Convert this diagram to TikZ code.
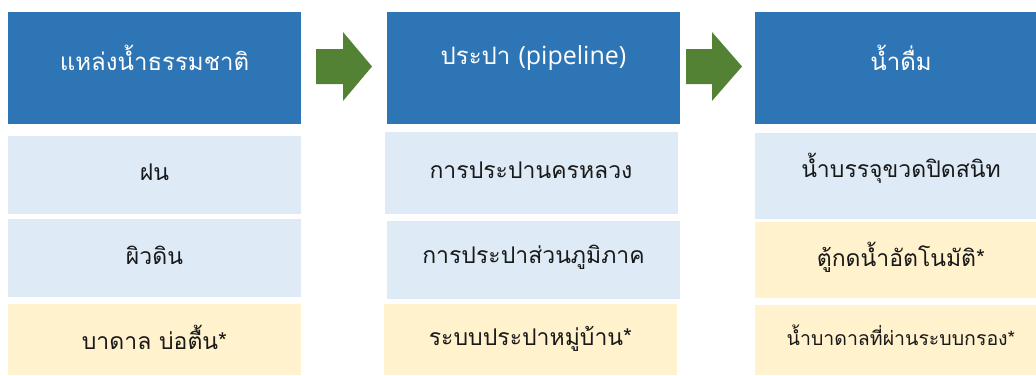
\documentclass[tikz,border=0pt]{standalone}
\usepackage{fontspec}
\newfontfamily\thai[Script=Thai]{Loma}
\newfontfamily\latinfont{Open Sans}
\definecolor{hdr}{HTML}{2E75B6}
\definecolor{lblue}{HTML}{DEEBF7}
\definecolor{lyel}{HTML}{FFF2CC}
\definecolor{agreen}{HTML}{548235}
\tikzset{
  box/.style={draw=none, inner sep=0pt, anchor=north west},
  hdrbox/.style={box, fill=hdr},
  bluebox/.style={box, fill=lblue},
  yelbox/.style={box, fill=lyel},
  hdrtext/.style={text=white, font=\thai\fontsize{24}{28}\selectfont, inner sep=0pt},
  bodytext/.style={text=black!90, font=\thai\fontsize{23}{27}\selectfont, inner sep=0pt},
  flowarrow/.style={fill=agreen, draw=none}
}
\newcommand{\bx}[6]{% style, name, x1, y1, x2, y2
  \node[#1, minimum width=#5pt-#3pt, minimum height=#6pt-#4pt] (#2) at (#3,#4) {};}
\begin{document}
\begin{tikzpicture}[x=1pt,y=-1pt]
\useasboundingbox (0,0) rectangle (1036,375);
% column 1
\bx{hdrbox}{h1}{8}{12}{301}{124}
\bx{bluebox}{a1}{8}{136}{301}{214}
\bx{bluebox}{a2}{8}{219}{301}{297}
\bx{yelbox}{a3}{8}{304}{301}{375}
% column 2
\bx{hdrbox}{h2}{387}{12}{680}{124}
\bx{bluebox}{b1}{385}{132}{678}{214}
\bx{bluebox}{b2}{387}{221}{680}{299}
\bx{yelbox}{b3}{384}{304}{677}{375}
% column 3
\bx{hdrbox}{h3}{755}{12}{1036}{124}
\bx{bluebox}{c1}{755}{133}{1036}{219}
\bx{yelbox}{c2}{755}{222}{1036}{298}
\bx{yelbox}{c3}{755}{305}{1036}{375}
% texts
\node[hdrtext] (h1t) at (154.5,58) {แหล่งน้ำธรรมชาติ};
\node[hdrtext] (h2t) at (533.5,58) {ประปา {\latinfont\fontsize{25}{30}\selectfont(pipeline)}};
\node[hdrtext] (h3t) at (901,58) {น้ำดื่ม};
\node[bodytext] (a1t) at (154.5,172) {ฝน};
\node[bodytext] (a2t) at (154.5,255) {ผิวดิน};
\node[bodytext] (a3t) at (154.5,337) {บาดาล บ่อตื้น*};
\node[bodytext] (b1t) at (531,170) {การประปานครหลวง};
\node[bodytext] (b2t) at (533.5,257) {การประปาส่วนภูมิภาค};
\node[bodytext] (b3t) at (530.5,339) {ระบบประปาหมู่บ้าน*};
\node[bodytext] (c1t) at (901,168) {น้ำบรรจุขวดปิดสนิท};
\node[bodytext] (c2t) at (901,257) {ตู้กดน้ำอัตโนมัติ*};
\node[bodytext, font=\thai\fontsize{19.5}{23}\selectfont] (c3t) at (901,335) {น้ำบาดาลที่ผ่านระบบกรอง*};
% arrows
\fill[flowarrow] (316,49) -- (343,49) -- (343,32) -- (372,66.5) -- (343,101) -- (343,84) -- (316,84) -- cycle;
\fill[flowarrow] (686,49) -- (712,49) -- (712,32) -- (742,66.5) -- (712,101) -- (712,84) -- (686,84) -- cycle;
\end{tikzpicture}
\end{document}
